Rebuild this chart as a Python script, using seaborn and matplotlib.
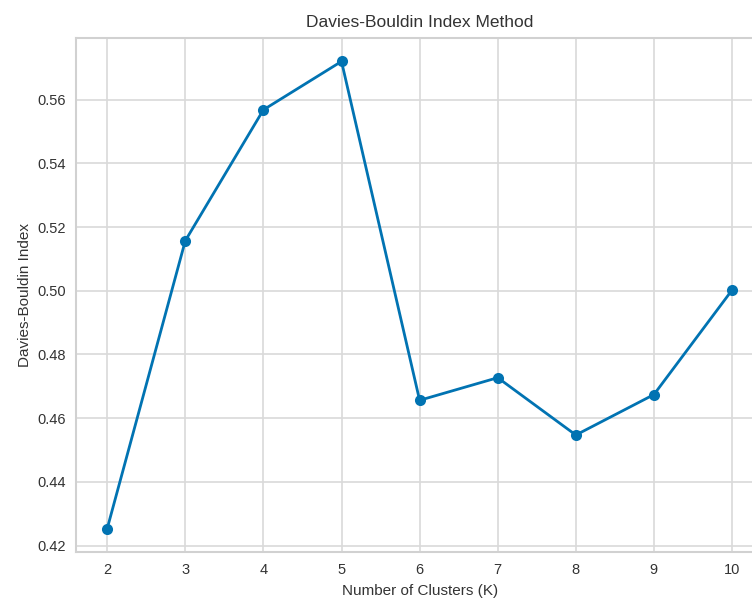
import matplotlib
matplotlib.use("Agg")
import matplotlib.pyplot as plt
import seaborn as sns
import pandas as pd

# Davies-Bouldin score for each number of clusters
k_values = [2, 3, 4, 5, 6, 7, 8, 9, 10]
db_scores = [0.4253, 0.5157, 0.5568, 0.5720, 0.4656, 0.4727, 0.4547, 0.4674, 0.5002]

df = pd.DataFrame({"k": k_values, "score": db_scores})

sns.set_style("whitegrid", {"axes.edgecolor": "0.82", "grid.color": "0.85",
                            "text.color": "0.2", "axes.labelcolor": "0.2",
                            "xtick.color": "0.2", "ytick.color": "0.2"})
plt.rcParams["font.family"] = ["Liberation Sans", "DejaVu Sans"]

fig = plt.figure(figsize=(7.52, 6.01), dpi=100)
ax = fig.add_axes([0.1010, 0.0815, 0.914, 0.8552])

sns.lineplot(data=df, x="k", y="score", marker="o", color="#0173b2",
             linewidth=2, markersize=8, markeredgewidth=0, ax=ax)

ax.set_xticks(k_values)
ax.set_xticklabels([str(k) for k in k_values])
ax.set_title("Davies-Bouldin Index Method", fontsize=12.5, pad=8)
ax.set_xlabel("Number of Clusters (K)", fontsize=11, labelpad=5)
ax.set_ylabel("Davies-Bouldin Index", fontsize=11)
ax.tick_params(labelsize=10.5, length=0)
ax.tick_params(axis="x", pad=8)
ax.tick_params(axis="y", pad=7)
for s in ax.spines.values():
    s.set_linewidth(1.5)
ax.grid(linewidth=1.2)

fig.savefig("out.png", dpi=100)
